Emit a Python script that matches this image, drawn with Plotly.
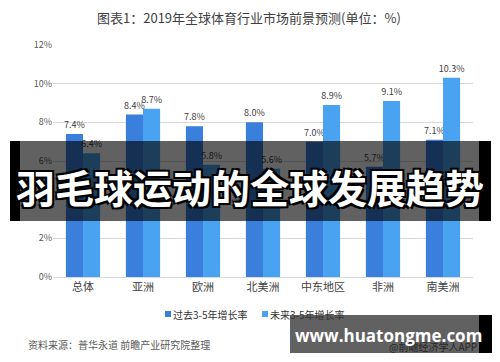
import plotly.graph_objects as go

categories = ["总体", "亚洲", "欧洲", "北美洲", "中东地区", "非洲", "南美洲"]
past_growth = [7.4, 8.4, 7.8, 8.0, 7.0, 5.7, 7.1]
future_growth = [6.4, 8.7, 5.8, 5.6, 8.9, 9.1, 10.3]
series_names = ["过去3-5年增长率", "未来3-5年增长率"]
series_colors = ["#3b7fdd", "#4aa3f0"]
title_text = "图表1：2019年全球体育行业市场前景预测(单位：%)"
source_text = "资料来源：普华永道 前瞻产业研究院整理"
overlay_text = "羽毛球运动的全球发展趋势"

W, H = 500, 362
L, R, T, B = 53, 27, 45, 85
PW, PH = W - L - R, H - T - B

def px(x):
    return (x - L) / PW

def py(y):
    return (H - B - y) / PH

FONT = "Noto Sans CJK SC, Noto Sans, sans-serif"

fig = go.Figure()
for name, vals, col in zip(series_names, [past_growth, future_growth], series_colors):
    fig.add_trace(go.Bar(
        x=categories, y=vals, name=name,
        marker=dict(color=col, line=dict(width=0)),
        text=[f"{v:.1f}%" for v in vals], textposition="outside",
        textfont=dict(size=9, color="#404040", family=FONT), cliponaxis=False,
        constraintext="none", showlegend=False,
    ))

shapes = [
    # dark band
    dict(type="rect", xref="paper", yref="paper", x0=px(20), x1=px(479), y0=py(221), y1=py(141),
         fillcolor="rgba(0,0,0,0.62)", line=dict(width=0), layer="above"),
    dict(type="rect", xref="paper", yref="paper", x0=px(10), x1=px(20), y0=py(221), y1=py(141),
         fillcolor="#000", line=dict(width=0), layer="above"),
    dict(type="rect", xref="paper", yref="paper", x0=px(479), x1=px(491), y0=py(221), y1=py(141),
         fillcolor="#000", line=dict(width=0), layer="above"),
    # watermark box
    dict(type="rect", xref="paper", yref="paper", x0=px(290), x1=px(479), y0=py(353), y1=py(315),
         fillcolor="rgba(0,0,0,0.62)", line=dict(width=0), layer="above"),
    dict(type="rect", xref="paper", yref="paper", x0=px(479), x1=px(492), y0=py(353), y1=py(315),
         fillcolor="#000", line=dict(width=0), layer="above"),
    # legend squares
    dict(type="rect", xref="paper", yref="paper", x0=px(165), x1=px(171), y0=py(317), y1=py(311),
         fillcolor=series_colors[0], line=dict(width=0)),
    dict(type="rect", xref="paper", yref="paper", x0=px(262), x1=px(268), y0=py(317), y1=py(311),
         fillcolor=series_colors[1], line=dict(width=0)),
]

annotations = [
    dict(text=title_text, xref="paper", yref="paper", x=px(249), y=py(17), showarrow=False,
         xanchor="center", yanchor="middle", font=dict(size=13, color="#404040", family=FONT)),
    dict(text=series_names[0], xref="paper", yref="paper", x=px(171), y=py(314), showarrow=False,
         xanchor="left", yanchor="middle", font=dict(size=10, color="#333333", family=FONT)),
    dict(text=series_names[1], xref="paper", yref="paper", x=px(268), y=py(314), showarrow=False,
         xanchor="left", yanchor="middle", font=dict(size=10, color="#333333", family=FONT)),
    dict(text=source_text, xref="paper", yref="paper", x=px(26), y=py(344), showarrow=False,
         xanchor="left", yanchor="middle", font=dict(size=10, color="#595959", family=FONT)),
    dict(text="@前瞻经济学人APP", xref="paper", yref="paper", x=px(479), y=py(346), showarrow=False,
         xanchor="right", yanchor="middle", font=dict(size=10, color="#262626", family=FONT)),
    dict(text="<b>www.huatongme.com</b>", xref="paper", yref="paper", x=px(388), y=py(335), showarrow=False,
         xanchor="center", yanchor="middle", font=dict(size=17, color="#ffffff", family="Open Sans, DejaVu Sans, sans-serif")),
    dict(text="<b>" + overlay_text + "</b>", xref="paper", yref="paper", x=px(250), y=py(186), showarrow=False,
         xanchor="center", yanchor="middle",
         font=dict(size=39, color="#ffffff", family=FONT,
                   shadow="2px 2px 0 #000, -2px -2px 0 #000, 2px -2px 0 #000, -2px 2px 0 #000")),
]

fig.update_layout(
    width=W, height=H,
    margin=dict(l=L, r=R, t=T, b=B, autoexpand=False),
    paper_bgcolor="white", plot_bgcolor="white",
    barmode="group", bargap=0.43, bargroupgap=0,
    font=dict(family=FONT, color="#404040"),
    showlegend=False,
    xaxis=dict(showgrid=False, showline=True, linecolor="#d9d9d9", linewidth=1, ticks="",
               tickfont=dict(size=11, color="#404040", family=FONT), fixedrange=True),
    yaxis=dict(range=[0, 12], dtick=2, ticksuffix="%", showgrid=True, gridcolor="#d9d9d9",
               gridwidth=1, zeroline=False, showline=False, ticks="",
               tickfont=dict(size=9, color="#595959", family=FONT), fixedrange=True),
    shapes=shapes, annotations=annotations,
)

fig.write_html("out.html", config={"displayModeBar": False},
               post_script="document.body.style.margin='0';document.body.style.overflow='hidden';")
